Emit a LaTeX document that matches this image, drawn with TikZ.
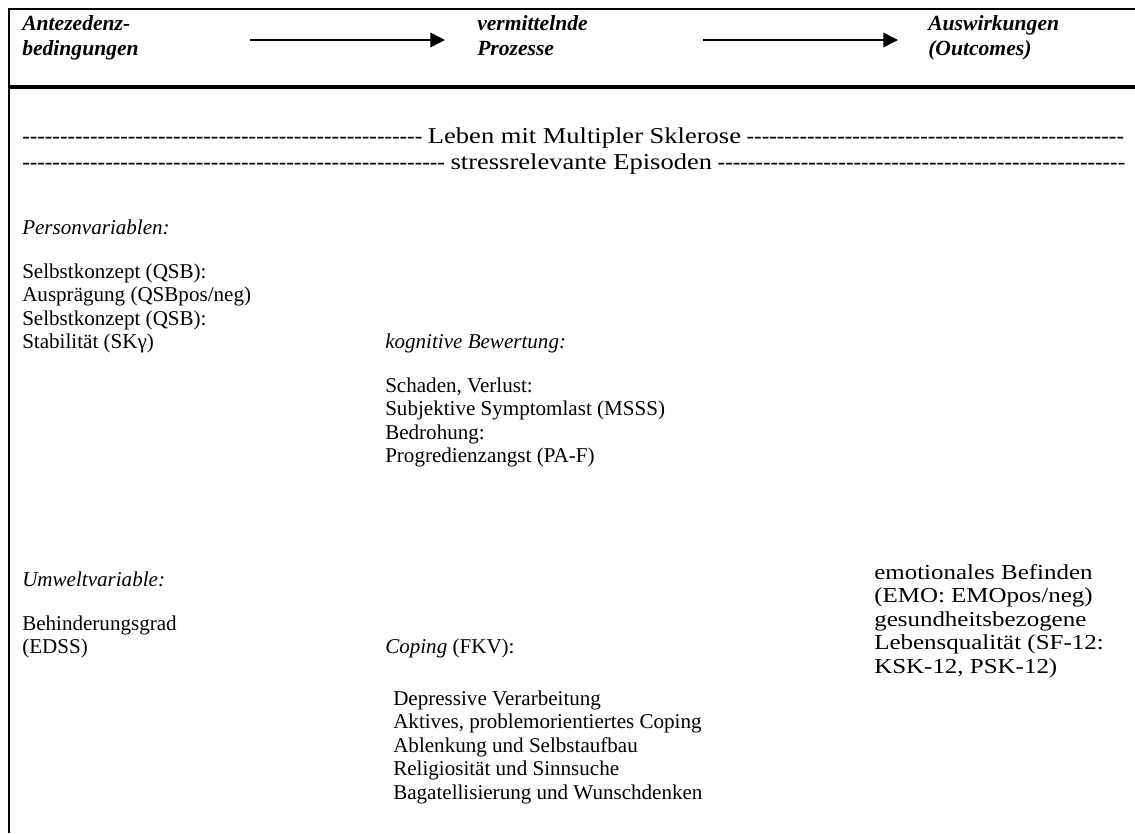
\documentclass[tikz,border=0pt]{standalone}
\usepackage{fontspec}
\setmainfont{Liberation Serif}[Ligatures=TeXOff]
\usetikzlibrary{arrows.meta}

\tikzset{
  lbl/.style={anchor=base west,inner sep=0pt,font=\fontsize{15.8}{19}\selectfont},
  wide/.style={lbl,font=\fontsize{16}{19}\selectfont\addfontfeature{FakeStretch=1.17}},
  rule/.style={lbl,font=\fontsize{17}{19}\selectfont},
  hdr/.style={lbl,font=\fontsize{16.2}{19}\selectfont\bfseries\itshape},
  ital/.style={lbl,font=\fontsize{15.8}{19}\selectfont\itshape},
  flow/.style={-{Triangle[length=11pt,width=11pt]},line width=1.1pt},
}
\newcommand\hyphens[1]{\foreach\k in {1,...,#1}{-}}
\newcommand\widetext[1]{{\addfontfeature{FakeStretch=1.17}#1}}

\begin{document}
\begin{tikzpicture}[x=0.75pt,y=-0.75pt]
\useasboundingbox (0,0) rectangle (1135,833);

\def\colA{22}
\def\colB{385}
\def\colBB{393}
\def\colC{874}

% frame
\draw[line width=1.5pt] (9,833) -- (9,9) -- (1135,9);
\draw[line width=2.6pt] (9,87) -- (1135,87);

% header row
\node[hdr] (ante1) at (\colA,30) {Antezedenz-};
\node[hdr] (ante2) at (\colA,55) {bedingungen};
\node[hdr] (verm1) at (477,30) {vermittelnde};
\node[hdr] (verm2) at (477,55) {Prozesse};
\node[hdr] (ausw1) at (928,30) {Auswirkungen};
\node[hdr] (ausw2) at (928,55) {(Outcomes)};

\coordinate (f1a) at (250,40);
\coordinate (f1b) at (445,40);
\coordinate (f2a) at (703,40);
\coordinate (f2b) at (898,40);
\draw[flow] (f1a) -- (f1b);
\draw[flow] (f2a) -- (f2b);

% context lines
\node[rule] (life) at (\colA,143) {\hyphens{53} \widetext{Leben mit Multipler Sklerose} \hyphens{50}};
\node[rule] (stress) at (\colA,169) {\hyphens{56} \widetext{stressrelevante Episoden} \hyphens{54}};

% antecedents
\node[ital] (pv) at (\colA,234) {Personvariablen:};
\node[lbl] (sk1) at (\colA,278) {Selbstkonzept (QSB):};
\node[lbl] (ausp) at (\colA,301.5) {Ausprägung (QSBpos/neg)};
\node[lbl] (sk2) at (\colA,325) {Selbstkonzept (QSB):};
\node[lbl] (stab) at (\colA,348.5) {Stabilität (SKγ)};

\node[ital] (uv) at (\colA,586) {Umweltvariable:};
\node[lbl] (bhg) at (\colA,630) {Behinderungsgrad};
\node[lbl] (edss) at (\colA,653.5) {(EDSS)};

% processes
\node[ital] (kb) at (\colB,348.5) {kognitive Bewertung:};
\node[lbl] (sv) at (\colB,392) {Schaden, Verlust:};
\node[lbl] (ssl) at (\colB,415.5) {Subjektive Symptomlast (MSSS)};
\node[lbl] (bed) at (\colB,439) {Bedrohung:};
\node[lbl] (paf) at (\colB,462.5) {Progredienzangst (PA-F)};

\node[lbl] (cop) at (\colB,653.5) {\textit{Coping} (FKV):};
\node[lbl] (dv) at (\colBB,705) {Depressive Verarbeitung};
\node[lbl] (apc) at (\colBB,728.5) {Aktives, problemorientiertes Coping};
\node[lbl] (asa) at (\colBB,752) {Ablenkung und Selbstaufbau};
\node[lbl] (rss) at (\colBB,775.5) {Religiosität und Sinnsuche};
\node[lbl] (bwd) at (\colBB,799) {Bagatellisierung und Wunschdenken};

% outcomes
\node[wide] (emo1) at (\colC,579) {emotionales Befinden};
\node[wide] (emo2) at (\colC,602.5) {(EMO: EMOpos/neg)};
\node[wide] (gbl1) at (\colC,626) {gesundheitsbezogene};
\node[wide] (gbl2) at (\colC,649.5) {Lebensqualität (SF-12:};
\node[wide] (gbl3) at (\colC,673) {KSK-12, PSK-12)};

\end{tikzpicture}
\end{document}
